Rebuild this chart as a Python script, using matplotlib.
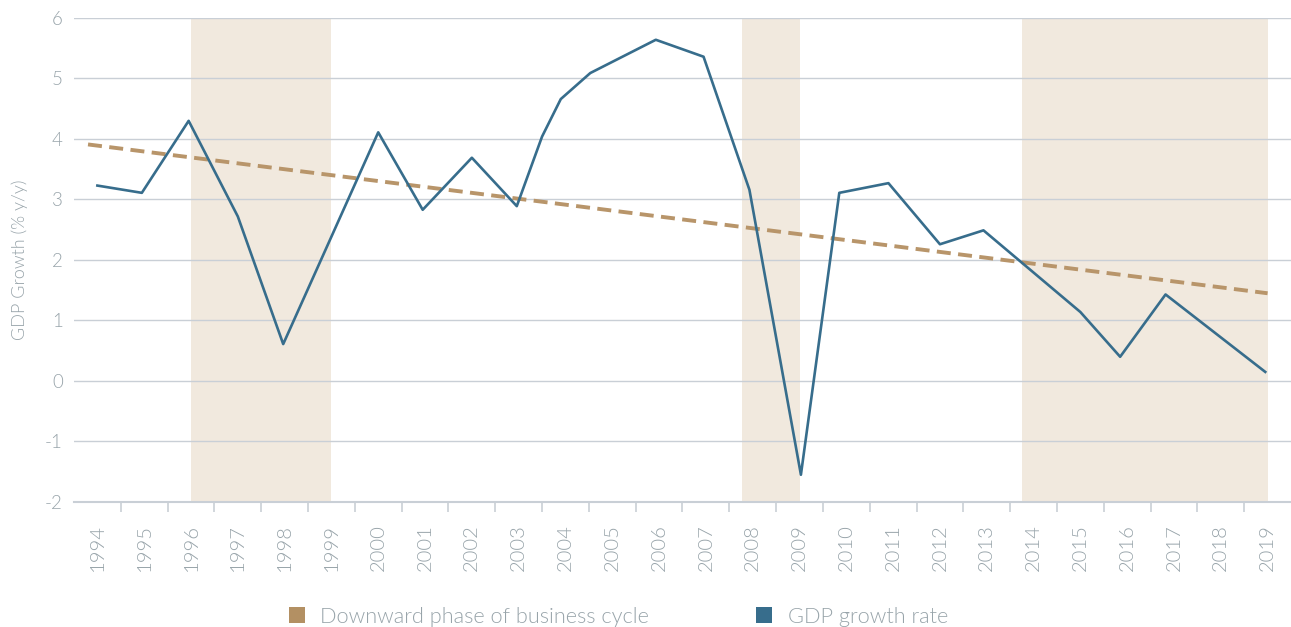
import matplotlib.pyplot as plt
from matplotlib.patches import Patch
from matplotlib.ticker import MultipleLocator

plt.rcParams['font.family'] = ['Lato', 'DejaVu Sans']
plt.rcParams['font.weight'] = 300
plt.rcParams['axes.labelweight'] = 300
plt.rcParams['axes.unicode_minus'] = False

# GDP growth (% y/y), x
gdp_x = [1994.0, 1994.95, 1995.95, 1997.0, 1997.97, 2000.0, 2000.95, 2002.0, 2002.96,
         2003.5, 2003.9, 2004.53, 2005.93, 2006.95, 2007.93, 2009.03, 2009.85, 2010.9,
         2012.0, 2012.93, 2015.0, 2015.85, 2016.82, 2018.95]
gdp_y = [3.23, 3.11, 4.30, 2.72, 0.61, 4.11, 2.83, 3.69, 2.89,
         4.04, 4.66, 5.09, 5.64, 5.36, 3.16, -1.55, 3.11, 3.27,
         2.26, 2.49, 1.14, 0.40, 1.43, 0.15]

# linear trend end points
trend_x = [1993.8, 2019.0]
trend_y = [3.91, 1.45]

# downward phases of the business cycle
phases = [(1996.0, 1999.0), (2007.78, 2009.0), (2013.75, 2019.0)]

years = list(range(1994, 2020))

line_col = '#376d8c'
shade_col = '#f1e9de'
trend_col = '#b8956a'
legend_brown = '#b39063'
grid_col = '#c9cfd6'
text_col = '#98a4aa'

fig, ax = plt.subplots(figsize=(12.91, 6.27), dpi=100)
fig.subplots_adjust(left=0.0573, right=1.0, top=0.9713, bottom=0.1994)

for a, b in phases:
    ax.axvspan(a, b, color=shade_col, lw=0, zorder=0)

ax.plot(trend_x, trend_y, color=trend_col, lw=2.8, dashes=(3.6, 1.9), zorder=2)
ax.plot(gdp_x, gdp_y, color=line_col, lw=1.9, zorder=3)

ax.set_xlim(1993.5, 2019.5)
ax.set_ylim(-2, 6)
ax.yaxis.set_major_locator(MultipleLocator(1))
ax.grid(axis='y', color=grid_col, lw=1.0, zorder=1)
ax.set_axisbelow(True)

ax.set_xticks(years)
ax.set_xticklabels([str(y) for y in years], rotation=90, fontsize=14.5, color=text_col,
                   fontweight=300)
ax.set_xticks([y + 0.5 for y in years[:-1]], minor=True)
ax.tick_params(axis='x', which='major', length=0, pad=16)
ax.tick_params(axis='x', which='minor', length=7, width=1.2, color=grid_col)
ax.tick_params(axis='y', length=0, pad=8, labelsize=13.5, labelcolor=text_col)
for t in ax.get_yticklabels():
    t.set_fontweight(300)

for s in ['top', 'right', 'left']:
    ax.spines[s].set_visible(False)
ax.spines['bottom'].set_color(grid_col)
ax.spines['bottom'].set_linewidth(1.5)

ax.set_ylabel('GDP Growth (% y/y)', fontsize=13, color=text_col, labelpad=12, fontweight=300)

handles = [Patch(facecolor=legend_brown, edgecolor='none', label='Downward phase of business cycle'),
           Patch(facecolor=line_col, edgecolor='none', label='GDP growth rate')]
leg = fig.legend(handles=handles, loc='lower center', bbox_to_anchor=(0.479, -0.031), ncol=2,
                 frameon=False, fontsize=15.7, handlelength=0.75, handleheight=0.75,
                 handletextpad=0.7, columnspacing=4.9)
for t in leg.get_texts():
    t.set_color(text_col)
    t.set_fontweight(300)

fig.savefig('out.png', dpi=100)
